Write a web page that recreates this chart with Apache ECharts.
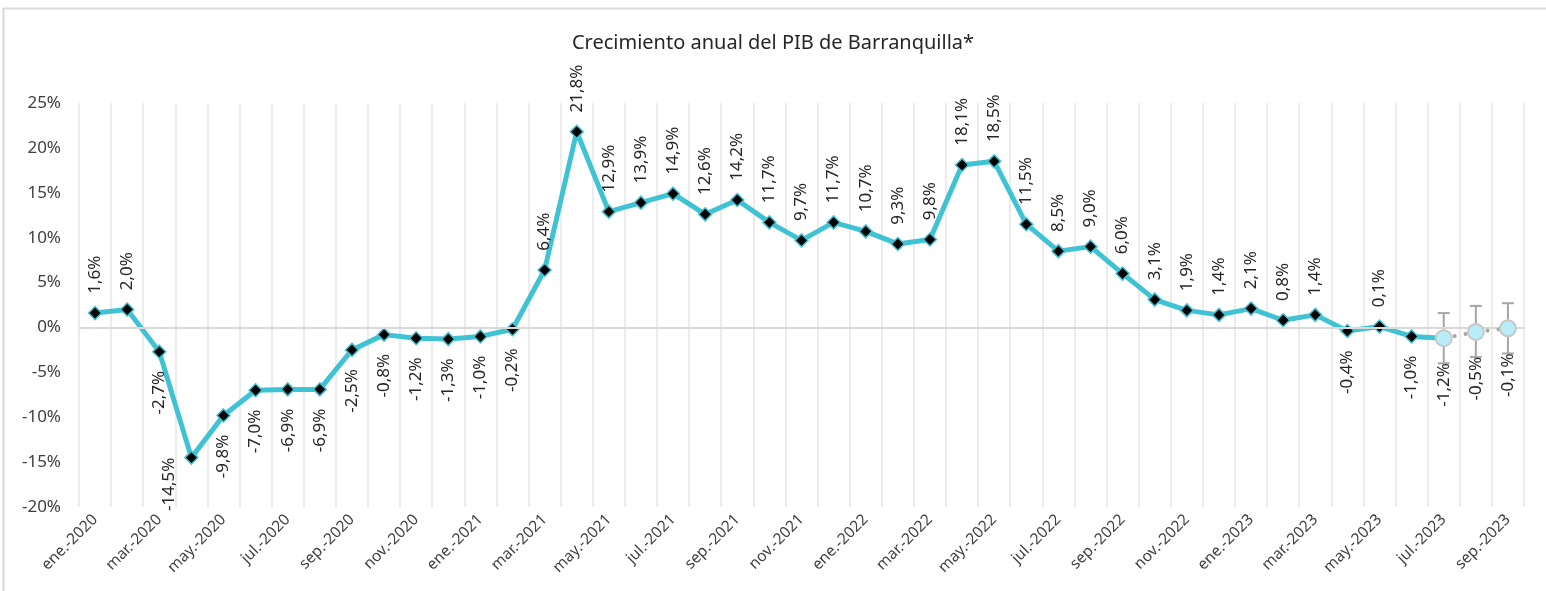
<!DOCTYPE html>
<html><head><meta charset="utf-8">
<script src="https://cdn.jsdelivr.net/npm/echarts@6/dist/echarts.min.js"></script>
<style>html,body{margin:0;padding:0;background:#fff}#c{width:1546px;height:591px}</style>
</head><body><div id="c"></div>
<script>
const categories = [
  'ene.-2020','feb.-2020','mar.-2020','abr.-2020','may.-2020','jun.-2020','jul.-2020','ago.-2020','sep.-2020','oct.-2020','nov.-2020','dic.-2020',
  'ene.-2021','feb.-2021','mar.-2021','abr.-2021','may.-2021','jun.-2021','jul.-2021','ago.-2021','sep.-2021','oct.-2021','nov.-2021','dic.-2021',
  'ene.-2022','feb.-2022','mar.-2022','abr.-2022','may.-2022','jun.-2022','jul.-2022','ago.-2022','sep.-2022','oct.-2022','nov.-2022','dic.-2022',
  'ene.-2023','feb.-2023','mar.-2023','abr.-2023','may.-2023','jun.-2023','jul.-2023','ago.-2023','sep.-2023'
];
// observed values (ene-2020 .. jul-2023)
const actual = [1.6,2.0,-2.7,-14.5,-9.8,-7.0,-6.9,-6.9,-2.5,-0.8,-1.2,-1.3,
  -1.0,-0.2,6.4,21.8,12.9,13.9,14.9,12.6,14.2,11.7,9.7,11.7,
  10.7,9.3,9.8,18.1,18.5,11.5,8.5,9.0,6.0,3.1,1.9,1.4,
  2.1,0.8,1.4,-0.4,0.1,-1.0,-1.2];
// projected values (jul-2023 .. sep-2023)
const projCats = ['jul.-2023','ago.-2023','sep.-2023'];
const projection = [-1.2,-0.5,-0.1];
const errLow = [-4.0,-3.3,-2.9];
const errHigh = [1.6,2.4,2.7];
const yMin = -20, yMax = 25, yStep = 5;
const title = 'Crecimiento anual del PIB de Barranquilla*';

const FONT = '"Noto Sans", "Open Sans", sans-serif';
const fmt = v => v.toFixed(1).replace('.', ',') + '%';
const CYAN = '#3fc2d4';

const posLabel = {position:'top', align:'left', verticalAlign:'middle', distance:12};
const negLabel = {position:'bottom', align:'right', verticalAlign:'middle', distance:12};

const mainData = actual.map((v, i) => {
  const last = i === actual.length - 1;
  const item = {value: v, label: Object.assign({}, v >= 0 ? posLabel : negLabel)};
  if (last) { item.symbol = 'none'; item.label = {show:false}; }
  if (v === -14.5) item.label = {position:'left', align:'right', verticalAlign:'middle', distance:10, offset:[0,-5]};
  return item;
});

const projData = categories.map(c => {
  const k = projCats.indexOf(c);
  if (k < 0) return '-';
  return {value: projection[k], label: Object.assign({}, projection[k] >= 0 ? posLabel : negLabel, {distance: 16})};
});

const errData = projCats.map((c, k) => [categories.indexOf(c), errLow[k], errHigh[k]]);

const chart = echarts.init(document.getElementById('c'), null, {renderer:'canvas'});
chart.setOption({
  backgroundColor:'#fff',
  animation:false,
  textStyle:{fontFamily:FONT},
  title:{text:title, left:'center', top:28,
    textStyle:{fontFamily:FONT, fontSize:20, fontWeight:'normal', color:'#262626'}},
  graphic:[{type:'rect', shape:{x:3.5, y:8.5, width:1560, height:600},
    style:{fill:'none', stroke:'#d9d9d9', lineWidth:2}, silent:true, z:-10}],
  grid:{left:79, right:22, top:103, bottom:84, containLabel:false},
  xAxis:{type:'category', data:categories, boundaryGap:true,
    axisLine:{show:false}, axisTick:{show:false},
    axisLabel:{interval:1, rotate:45, fontSize:15.5, color:'#404040', margin:10, fontFamily:FONT},
    splitLine:{show:true, interval:0, lineStyle:{color:'#ececec', width:2}}},
  yAxis:{type:'value', min:yMin, max:yMax, interval:yStep,
    axisLine:{show:false}, axisTick:{show:false}, splitLine:{show:false},
    axisLabel:{formatter:'{value}%', fontSize:17, color:'#404040', margin:18, fontFamily:FONT}},
  series:[
    {type:'line', data:[], silent:true, z:1,
      markLine:{silent:true, symbol:['none','none'], label:{show:false},
        lineStyle:{color:'#d9d9d9', width:2, type:'solid'}, data:[{yAxis:0}]}},
    {type:'line', data:mainData, z:3, symbol:'diamond', symbolSize:13,
      lineStyle:{color:CYAN, width:5}, itemStyle:{color:'#000', borderColor:CYAN, borderWidth:1.5},
      label:{show:true, rotate:90, fontSize:17, color:'#262626', fontFamily:FONT, formatter:p=>fmt(p.value)}},
    {type:'custom', z:4, data:errData, silent:true,
      renderItem:(params, api) => {
        const x = api.coord([api.value(0), api.value(1)])[0];
        const yl = api.coord([api.value(0), api.value(1)])[1];
        const yh = api.coord([api.value(0), api.value(2)])[1];
        const st = {stroke:'#a6a6a6', lineWidth:2};
        return {type:'group', children:[
          {type:'line', shape:{x1:x, y1:yl, x2:x, y2:yh}, style:st},
          {type:'line', shape:{x1:x-6, y1:yl, x2:x+6, y2:yl}, style:st},
          {type:'line', shape:{x1:x-6, y1:yh, x2:x+6, y2:yh}, style:st}
        ]};
      }},
    {type:'line', data:projData, z:5, symbol:'circle', symbolSize:16,
      lineStyle:{color:'#a6a6a6', width:4, type:[0.1, 11], cap:'round'},
      itemStyle:{color:'#b8ecf6', borderColor:'#c8c8c8', borderWidth:2},
      label:{show:true, rotate:90, fontSize:17, color:'#262626', fontFamily:FONT, formatter:p=>fmt(p.value)}}
  ]
});
</script></body></html>
